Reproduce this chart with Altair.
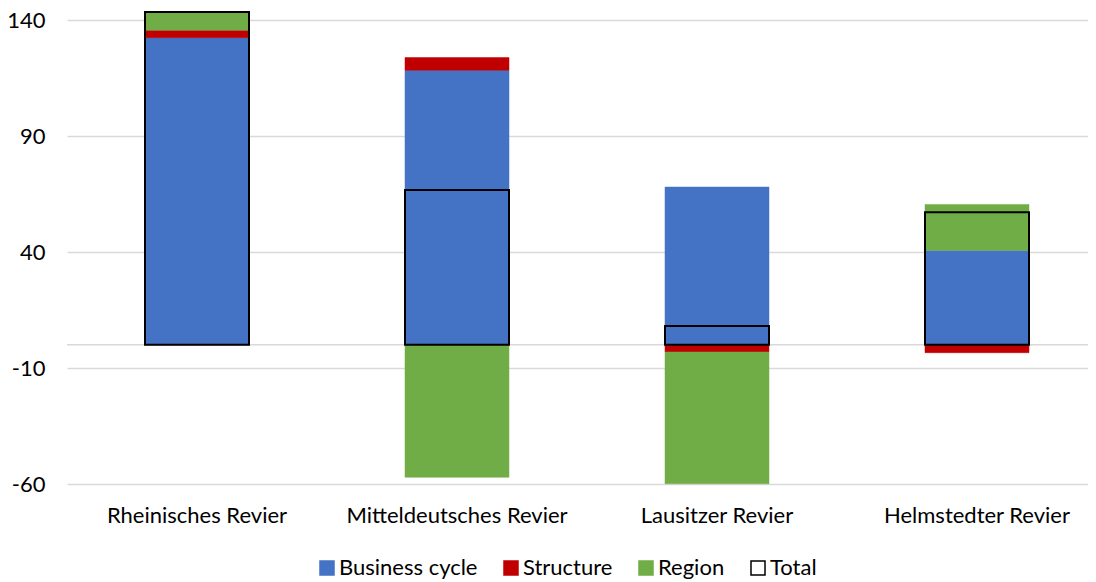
import altair as alt
import pandas as pd

regions = ["Rheinisches Revier", "Mitteldeutsches Revier", "Lausitzer Revier", "Helmstedter Revier"]
series_names = ["Business cycle", "Structure", "Region", "Total"]
business_cycle = [132.4, 118.3, 68.0, 40.7]
structure = [3.2, 5.5, -3.1, -3.4]
region_effect = [7.8, -57.1, -56.8, 19.8]
total = [143.4, 66.7, 8.1, 57.1]
y_ticks = [-60, -10, 40, 90, 140]

fill_colors = ["#4472C4", "#C00000", "#70AD47", "#FFFFFF"]
stroke_colors = ["#4472C4", "#C00000", "#70AD47", "#000000"]
FONT = "Lato"
FS = 22

rows = []
for i, r in enumerate(regions):
    for j, (name, vals) in enumerate(zip(series_names[:3], [business_cycle, structure, region_effect])):
        rows.append({"region": r, "series": name, "value": vals[i], "order": j})
bars_df = pd.DataFrame(rows)
total_df = pd.DataFrame({"region": regions, "series": ["Total"] * 4, "value": total})
zero_df = pd.DataFrame({"y": [0]})

x_enc = alt.X(
    "region:N",
    sort=regions,
    scale=alt.Scale(paddingInner=0.6, paddingOuter=0.3, range=[0, 1040]),
    axis=alt.Axis(title=None, labelAngle=0, domain=False, ticks=False, labelLimit=0,
                  labelPadding=21, labelFontSize=FS, labelFont=FONT, labelColor="#000000"),
)
y_scale = alt.Scale(domain=[-60, 140], nice=False, zero=False)
y_axis = alt.Axis(title=None, values=y_ticks, grid=True, gridColor="#D9D9D9", gridWidth=1.5,
                  domain=False, ticks=False, labelPadding=22, labelFontSize=FS,
                  labelFont=FONT, labelColor="#000000", labelExpr="datum.value + ''")

legend = alt.Legend(title=None, orient="none", direction="horizontal", columns=4,
                    legendX=249, legendY=537, symbolType="square", symbolSize=196,
                    symbolStrokeWidth=1.5, labelFontSize=FS, labelFont=FONT,
                    labelColor="#000000", columnPadding=22, labelOffset=1, labelLimit=0)

fill_enc = alt.Fill("series:N", scale=alt.Scale(domain=series_names, range=fill_colors), legend=legend)
stroke_enc = alt.Stroke("series:N", scale=alt.Scale(domain=series_names, range=stroke_colors), legend=legend)

zero_line = alt.Chart(zero_df).mark_rule(color="#D9D9D9", strokeWidth=1.5).encode(
    y=alt.Y("y:Q", scale=y_scale, axis=y_axis)
)

bars = alt.Chart(bars_df).mark_bar(strokeWidth=0.5).encode(
    x=x_enc,
    y=alt.Y("value:Q", stack="zero", scale=y_scale, axis=y_axis),
    fill=fill_enc,
    stroke=stroke_enc,
    order=alt.Order("order:Q"),
)

totals = alt.Chart(total_df).mark_bar(filled=False, strokeWidth=2).encode(
    x=x_enc,
    y=alt.Y("value:Q", stack=None, scale=y_scale, axis=y_axis),
    stroke=stroke_enc,
)

chart = alt.layer(zero_line, bars, totals).properties(
    width=1021, height=464,
    autosize=alt.AutoSizeParams(type="none"),
    padding={"left": 59, "top": 12, "right": 0, "bottom": 97},
).configure_view(stroke=None)

chart.save("out.html", embed_options={"renderer": "svg", "actions": False})
